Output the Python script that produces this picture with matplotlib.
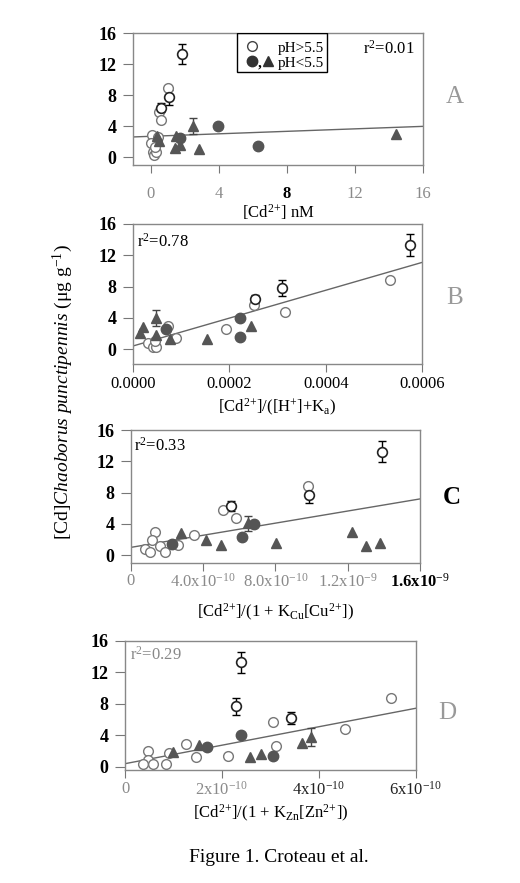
import numpy as np
import matplotlib.pyplot as plt
from matplotlib.patches import Rectangle

plt.rcParams['font.family'] = ['Liberation Serif', 'DejaVu Serif']
plt.rcParams['mathtext.fontset'] = 'custom'
plt.rcParams['mathtext.rm'] = 'Liberation Serif'
plt.rcParams['mathtext.it'] = 'Liberation Serif:italic'
plt.rcParams['mathtext.bf'] = 'Liberation Serif:bold'

# ---- panel A : [Cd2+] nM
a_open_x = [1.82, 1.0, 1.08, 0.6, 0.5, 0.6, 0.06, 0.0, 0.1, 0.2, 0.3, 0.4, 0.25]
a_open_y = [13.3, 8.9, 7.7, 6.4, 5.8, 4.8, 2.9, 1.8, 0.7, 0.3, 0.7, 2.6, 1.3]
a_open_err = [1.35, 0, 1.0, 0.6, 0, 0, 0, 0, 0, 0, 0, 0, 0]
a_fill_x = [3.97, 6.3, 1.72]
a_fill_y = [4.0, 1.4, 2.5]
a_tri_x = [2.5, 1.5, 1.43, 1.72, 2.8, 0.35, 0.45, 14.4]
a_tri_y = [4.0, 2.8, 1.2, 1.6, 1.1, 2.8, 2.1, 3.0]
a_tri_err = [1.0, 0, 0, 0, 0, 0, 0, 0]
a_fit = (2.7, 0.08)

# ---- panel B : [Cd2+]/([H+]+Ka)
b_open_x = [0.000574, 0.000533, 0.00031, 0.000315, 0.000253, 0.000251, 0.000192,
            0.0000727, 0.00009, 0.000031, 0.000042, 0.000048, 0.000045]
b_open_y = [13.3, 8.85, 7.8, 4.7, 6.4, 5.7, 2.6, 3.0, 1.4, 0.8, 0.3, 0.3, 1.0]
b_open_err = [1.35, 0, 1.05, 0, 0.5, 0, 0, 0, 0, 0, 0, 0, 0]
b_fill_x = [0.000223, 0.000223, 0.000068]
b_fill_y = [4.0, 1.5, 2.6]
b_tri_x = [0.000047, 0.000021, 0.000014, 0.000047, 0.000076, 0.000154, 0.000244]
b_tri_y = [4.0, 2.8, 2.0, 1.8, 1.3, 1.3, 3.0]
b_tri_err = [1.05, 0, 0, 0, 0, 0, 0]
b_fit = (0.4, 17800.0)

# ---- panel C : [Cd2+]/(1 + KCu[Cu2+])
c_open_x = [1.392e-9, 0.98e-9, 0.987e-9, 0.554e-9, 0.511e-9, 0.581e-9, 0.351e-9,
            0.262e-9, 0.133e-9, 0.114e-9, 0.078e-9, 0.105e-9, 0.16e-9, 0.19e-9]
c_open_y = [13.2, 8.8, 7.7, 6.3, 5.8, 4.8, 2.6, 1.3, 2.9, 1.9, 0.85, 0.4, 1.15, 0.4]
c_open_err = [1.35, 0, 1.0, 0.6, 0, 0, 0, 0, 0, 0, 0, 0, 0, 0]
c_fill_x = [0.683e-9, 0.613e-9, 0.225e-9]
c_fill_y = [4.0, 2.35, 1.4]
c_tri_x = [0.65e-9, 0.277e-9, 0.415e-9, 0.497e-9, 0.803e-9, 1.222e-9, 1.3e-9, 1.376e-9]
c_tri_y = [4.05, 2.8, 2.0, 1.3, 1.5, 3.0, 1.15, 1.6]
c_tri_err = [1.0, 0, 0, 0, 0, 0, 0, 0]
c_fit = (1.0, 3.87e9)

# ---- panel D : [Cd2+]/(1 + KZn[Zn2+])
d_open_x = [2.395e-10, 2.285e-10, 3.06e-10, 3.43e-10, 5.49e-10, 4.54e-10, 3.12e-10,
            2.13e-10, 1.47e-10, 1.26e-10, 0.915e-10, 0.48e-10, 0.48e-10, 0.38e-10,
            0.58e-10, 0.85e-10]
d_open_y = [13.3, 7.7, 5.7, 6.2, 8.8, 4.75, 2.6, 1.35, 1.2, 2.9, 1.8, 2.0, 0.85,
            0.4, 0.4, 0.35]
d_open_err = [1.35, 1.1, 0, 0.75, 0, 0, 0, 0, 0, 0, 0, 0, 0, 0, 0, 0]
d_fill_x = [2.39e-10, 1.7e-10, 3.05e-10]
d_fill_y = [4.0, 2.55, 1.35]
d_tri_x = [0.98e-10, 1.53e-10, 2.58e-10, 2.8e-10, 3.65e-10, 3.84e-10]
d_tri_y = [1.9, 2.75, 1.3, 1.6, 3.0, 3.8]
d_tri_err = [0, 0, 0, 0, 0, 1.1]
d_fit = (0.4, 1.175e10)

r2_labels = ['0.01', '0.78', '0.33', '0.29']
panel_letters = ['A', 'B', 'C', 'D']

a_ticks = [0, 4, 8, 12, 16]
a_ticklabels = ['0', '4', '8', '12', '16']
b_ticks = [0, 0.0002, 0.0004, 0.0006]
b_ticklabels = ['0.0000', '0.0002', '0.0004', '0.0006']
c_ticks = [0, 4e-10, 8e-10, 1.2e-9, 1.6e-9]
c_ticklabels = ['0', r'4.0x10$^{-10}$', r'8.0x10$^{-10}$', r'1.2x10$^{-9}$', r'1.6x10$^{-9}$']
d_ticks = [0, 2e-10, 4e-10, 6e-10]
d_ticklabels = ['0', r'2x10$^{-10}$', r'4x10$^{-10}$', r'6x10$^{-10}$']

fig = plt.figure(figsize=(5.2, 8.83), dpi=100)

grey = '#8a8a8a'
dark = '#555555'
cd = r'[Cd$^{2\!+\!}$]'

panels = [
    dict(pos=[0.2558, 0.8131, 0.5577, 0.1495], xlim=(-1.05, 16), ylim=(-1.0, 16),
         ox=a_open_x, oy=a_open_y, oe=a_open_err, fx=a_fill_x, fy=a_fill_y,
         tx=a_tri_x, ty=a_tri_y, te=a_tri_err, fit=a_fit,
         ticks=a_ticks, tl=a_ticklabels, tlc=[grey, grey, 'k', grey, grey],
         tlw=['normal', 'normal', 'bold', 'normal', 'normal'], xpad=9,
         xlabel=cd + ' nM', lp=0, r2pos=(0.97, 0.88, 'right'),
         letter=(0.875, 0.89, '#999999')),
    dict(pos=[0.2558, 0.5878, 0.5558, 0.1586], xlim=(0, 0.0006), ylim=(-1.9, 16),
         ox=b_open_x, oy=b_open_y, oe=b_open_err, fx=b_fill_x, fy=b_fill_y,
         tx=b_tri_x, ty=b_tri_y, te=b_tri_err, fit=b_fit,
         ticks=b_ticks, tl=b_ticklabels, tlc=['k'] * 4, tlw=['normal'] * 4, xpad=3,
         xlabel=cd + r'/([H$^{+}$]+K$_{\mathrm{a}}$)', lp=3, r2pos=(0.015, 0.87, 'left'),
         letter=(0.875, 0.663, '#999999')),
    dict(pos=[0.2519, 0.3624, 0.5558, 0.1506], xlim=(0, 1.6e-9), ylim=(-1.0, 16),
         ox=c_open_x, oy=c_open_y, oe=c_open_err, fx=c_fill_x, fy=c_fill_y,
         tx=c_tri_x, ty=c_tri_y, te=c_tri_err, fit=c_fit,
         ticks=c_ticks, tl=c_ticklabels, tlc=[grey, grey, grey, grey, 'k'],
         tlw=['normal'] * 4 + ['bold'], xpad=1,
         xlabel=cd + r'/(1 + K$_{\mathrm{Cu}}$[Cu$^{2\!+\!}$])', lp=8, r2pos=(0.01, 0.88, 'left'),
         letter=(0.869, 0.437, 'k')),
    dict(pos=[0.2404, 0.1280, 0.5596, 0.1461], xlim=(0, 6e-10), ylim=(-0.4, 16),
         ox=d_open_x, oy=d_open_y, oe=d_open_err, fx=d_fill_x, fy=d_fill_y,
         tx=d_tri_x, ty=d_tri_y, te=d_tri_err, fit=d_fit,
         ticks=d_ticks, tl=d_ticklabels, tlc=[grey, grey, '#222222', '#222222'],
         tlw=['normal'] * 4, xpad=2,
         xlabel=cd + r'/(1 + K$_{\mathrm{Zn}}$[Zn$^{2\!+\!}$])', lp=3, r2pos=(0.017, 0.89, 'left'),
         letter=(0.86, 0.193, '#999999')),
]

for i, p in enumerate(panels):
    ax = fig.add_axes(p['pos'])
    ax.set_xlim(p['xlim'])
    ax.set_ylim(p['ylim'])

    xs = np.array(ax.get_xlim())
    ax.plot(xs, p['fit'][0] + p['fit'][1] * xs, color='#666666', lw=1.0, zorder=1)

    ox = np.array(p['ox']); oy = np.array(p['oy']); oe = np.array(p['oe'])
    has = oe > 0
    ax.errorbar(ox[has], oy[has], yerr=oe[has], fmt='none', ecolor='k', elinewidth=1.0,
                capsize=3, capthick=1.0, zorder=2)
    ax.plot(ox[~has], oy[~has], 'o', ms=7, mfc='white', mec='#777777', mew=1.0, zorder=3)
    ax.plot(ox[has], oy[has], 'o', ms=7, mfc='white', mec='#222222', mew=1.2, zorder=3)

    tx = np.array(p['tx']); ty = np.array(p['ty']); te = np.array(p['te'])
    ht = te > 0
    ax.errorbar(tx[ht], ty[ht], yerr=te[ht], fmt='none', ecolor='#444444', elinewidth=1.0,
                capsize=3, zorder=2)
    ax.plot(tx, ty, '^', ms=7, color=dark, mec=dark, zorder=4)
    ax.plot(p['fx'], p['fy'], 'o', ms=7.5, color=dark, mec=dark, zorder=4)

    ax.set_yticks([0, 4, 8, 12, 16])
    ax.set_yticklabels(['0', '4', '8', '12', '16'], fontsize=13, fontweight='bold')
    ax.set_xticks(p['ticks'])
    ax.set_xticklabels(p['tl'], fontsize=12)
    for lab, col, w in zip(ax.get_xticklabels(), p['tlc'], p['tlw']):
        lab.set_color(col)
        lab.set_fontweight(w)
    ax.tick_params(axis='y', direction='out', length=7, width=0.8, color='#777777', pad=5)
    ax.tick_params(axis='x', direction='out', length=6, width=0.8, color='#777777', pad=p['xpad'])
    for s in ax.spines.values():
        s.set_color('#888888')
        s.set_linewidth(1.0)
    ax.set_xlabel(p['xlabel'], fontsize=12, labelpad=p['lp'])

    rx, ry, ha = p['r2pos']
    ax.text(rx, ry, r'r$^{2}$=' + r2_labels[i], transform=ax.transAxes, ha=ha, va='center',
            fontsize=12, color='#888888' if i == 3 else 'k')
    lx, ly, lc = p['letter']
    fig.text(lx, ly, panel_letters[i], fontsize=18, color=lc, ha='center', va='center',
             fontweight='bold' if i == 2 else 'normal')

    if i == 0:
        ax.add_patch(Rectangle((0.359, 0.705), 0.31, 0.295, transform=ax.transAxes,
                               fill=False, ec='k', lw=1.0, zorder=5))
        ax.plot([0.41], [0.9], 'o', ms=7, mfc='white', mec='#444444',
                transform=ax.transAxes, clip_on=False, zorder=6)
        ax.text(0.50, 0.885, 'pH>5.5', transform=ax.transAxes, fontsize=11, va='center')
        ax.plot([0.41], [0.79], 'o', ms=7.5, color='#333333',
                transform=ax.transAxes, clip_on=False, zorder=6)
        ax.text(0.43, 0.77, ',', transform=ax.transAxes, fontsize=11, va='center',
                fontweight='bold')
        ax.plot([0.465], [0.79], '^', ms=6.5, color='#333333',
                transform=ax.transAxes, clip_on=False, zorder=6)
        ax.text(0.50, 0.77, 'pH<5.5', transform=ax.transAxes, fontsize=11, va='center')

fig.text(0.12, 1 - 392 / 883, r'[Cd]$\mathit{Chaoborus\ punctipennis}$ ($\mathrm{\mu}$g g$^{-1}$)',
         rotation=90, ha='center', va='center', fontsize=14)
fig.text(0.537, 1 - 858 / 883, 'Figure 1. Croteau et al.', ha='center', va='center', fontsize=14)

fig.savefig('out.png', dpi=100)
